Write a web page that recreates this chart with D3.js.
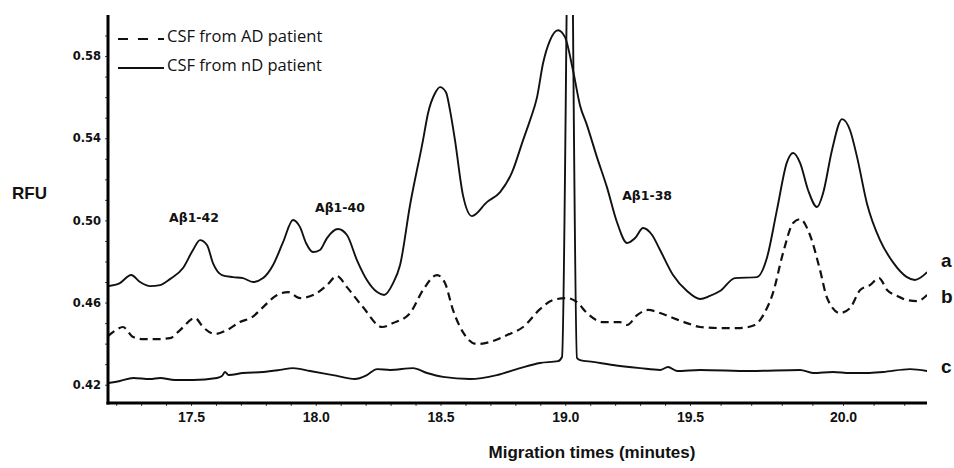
<!DOCTYPE html>
<html>
<head>
<meta charset="utf-8">
<script src="https://cdn.jsdelivr.net/npm/d3@7"></script>
<style>
  html, body { margin: 0; padding: 0; background: #fff; }
  svg { display: block; }
</style>
</head>
<body>
<svg id="chart" width="954" height="468"></svg>
<script>
// ---------- data (migration time in minutes, RFU) ----------
const timesA = [17.167,17.215,17.260,17.296,17.336,17.376,17.416,17.468,17.508,17.536,17.564,17.588,17.624,17.668,17.708,17.749,17.789,17.829,17.869,17.909,17.937,17.961,17.989,18.017,18.045,18.089,18.125,18.165,18.205,18.246,18.274,18.310,18.338,18.378,18.430,18.450,18.478,18.498,18.522,18.538,18.558,18.590,18.626,18.686,18.739,18.787,18.831,18.859,18.887,18.911,18.939,18.971,18.999,19.031,19.059,19.087,19.127,19.167,19.207,19.248,19.280,19.312,19.348,19.380,19.432,19.488,19.533,19.565,19.598,19.647,19.719,19.752,19.784,19.817,19.837,19.860,19.886,19.915,19.935,19.964,19.997,20.023,20.046,20.078,20.121,20.163,20.209,20.235,20.275];
const rfuA = [0.4680,0.4695,0.4734,0.4700,0.4680,0.4685,0.4714,0.4768,0.4856,0.4904,0.4880,0.4792,0.4734,0.4724,0.4719,0.4700,0.4719,0.4783,0.4894,0.5002,0.4967,0.4890,0.4846,0.4856,0.4914,0.4958,0.4929,0.4807,0.4710,0.4651,0.4637,0.4695,0.4783,0.5075,0.5391,0.5522,0.5619,0.5649,0.5624,0.5537,0.5391,0.5123,0.5021,0.5089,0.5138,0.5235,0.5391,0.5488,0.5600,0.5765,0.5877,0.5926,0.5892,0.5731,0.5561,0.5464,0.5308,0.5162,0.4992,0.4890,0.4914,0.4963,0.4929,0.4856,0.4734,0.4656,0.4617,0.4632,0.4656,0.4719,0.4724,0.4821,0.5050,0.5284,0.5328,0.5279,0.5147,0.5065,0.5133,0.5342,0.5493,0.5439,0.5308,0.5084,0.4904,0.4797,0.4724,0.4710,0.4748];

const timesB = [17.167,17.199,17.227,17.268,17.308,17.364,17.416,17.456,17.516,17.548,17.596,17.644,17.696,17.745,17.789,17.845,17.889,17.937,17.997,18.045,18.085,18.125,18.189,18.266,18.310,18.378,18.430,18.486,18.518,18.550,18.590,18.646,18.698,18.767,18.831,18.899,18.951,19.007,19.047,19.087,19.151,19.219,19.248,19.288,19.332,19.380,19.432,19.488,19.533,19.598,19.663,19.712,19.745,19.771,19.804,19.837,19.860,19.892,19.925,19.948,19.990,20.023,20.056,20.088,20.118,20.144,20.177,20.209,20.242,20.275];
const rfuB = [0.4437,0.4466,0.4481,0.4432,0.4422,0.4422,0.4427,0.4466,0.4525,0.4481,0.4447,0.4466,0.4505,0.4529,0.4578,0.4637,0.4651,0.4622,0.4641,0.4685,0.4729,0.4675,0.4578,0.4481,0.4500,0.4549,0.4661,0.4734,0.4695,0.4564,0.4456,0.4398,0.4408,0.4442,0.4481,0.4568,0.4612,0.4622,0.4602,0.4549,0.4505,0.4505,0.4491,0.4539,0.4564,0.4549,0.4525,0.4500,0.4481,0.4476,0.4476,0.4491,0.4554,0.4646,0.4841,0.4987,0.5006,0.4929,0.4758,0.4622,0.4549,0.4573,0.4661,0.4685,0.4719,0.4661,0.4632,0.4612,0.4607,0.4637];

const timesC = [17.167,17.215,17.268,17.336,17.376,17.436,17.508,17.604,17.624,17.636,17.652,17.708,17.789,17.857,17.909,17.977,18.069,18.157,18.205,18.246,18.298,18.390,18.446,18.510,18.618,18.726,18.819,18.899,18.971,18.987,19.019,19.047,19.059,19.111,19.191,19.300,19.380,19.412,19.448,19.533,19.696,19.860,19.902,19.967,20.023,20.078,20.131,20.219,20.275];
const rfuC = [0.4208,0.4218,0.4233,0.4228,0.4233,0.4223,0.4223,0.4233,0.4242,0.4262,0.4247,0.4257,0.4262,0.4272,0.4281,0.4267,0.4247,0.4228,0.4247,0.4276,0.4272,0.4281,0.4257,0.4238,0.4228,0.4247,0.4281,0.4306,0.4315,0.4335,0.7045,0.4330,0.4320,0.4311,0.4296,0.4281,0.4272,0.4286,0.4267,0.4272,0.4267,0.4272,0.4257,0.4262,0.4257,0.4257,0.4262,0.4276,0.4267];

const xTickLabels = [17.5, 18.0, 18.5, 19.0, 19.5, 20.0];
const yTickLabels = [0.42, 0.46, 0.50, 0.54, 0.58];
const legendLabels = ["CSF from AD patient", "CSF from nD patient"];
const peakLabels = [ {text: "A\u03b21-42", t: 17.512, v: 0.4992},
                     {text: "A\u03b21-40", t: 18.097, v: 0.5042},
                     {text: "A\u03b21-38", t: 19.328, v: 0.5100} ];
const traceLabels = ["a", "b", "c"];

// ---------- layout ----------
const svg = d3.select("#chart");
const pLeft = 108, pRight = 927, pTop = 15, pBottom = 403;

const x = d3.scaleLinear().domain([17.5, 19.5, 20.0]).range([191, 690, 843]);
const y = d3.scaleLinear().domain([0.4111, 0.600]).range([pBottom, pTop]);

svg.append("defs").append("clipPath").attr("id", "plotclip")
  .append("rect").attr("x", pLeft).attr("y", pTop)
  .attr("width", pRight - pLeft).attr("height", pBottom - pTop);

const line = d3.line().x(d => x(d[0])).y(d => y(d[1])).curve(d3.curveMonotoneX);
const zip = (a, b) => a.map((t, i) => [t, b[i]]);

const plot = svg.append("g").attr("clip-path", "url(#plotclip)");
plot.append("path").datum(zip(timesC, rfuC)).attr("d", line)
  .attr("fill", "none").attr("stroke", "#111").attr("stroke-width", 1.9);
plot.append("path").datum(zip(timesB, rfuB)).attr("d", line)
  .attr("fill", "none").attr("stroke", "#111").attr("stroke-width", 2.2)
  .attr("stroke-dasharray", "8,5");
plot.append("path").datum(zip(timesA, rfuA)).attr("d", line)
  .attr("fill", "none").attr("stroke", "#111").attr("stroke-width", 1.9);

// ---------- axes ----------
const minorX = d3.range(17.2, 20.25, 0.1).map(v => +v.toFixed(1));
const xAxisMinor = d3.axisBottom(x).tickValues(minorX).tickSize(3).tickFormat("");
const gx = svg.append("g").attr("transform", `translate(0,${pBottom})`).call(xAxisMinor);
gx.select(".domain").remove();
gx.selectAll(".tick line").attr("stroke", "#444").attr("stroke-width", 1);

const xAxisLab = d3.axisBottom(x).tickValues(xTickLabels).tickSize(0).tickPadding(9)
  .tickFormat(d3.format(".1f"));
const gxl = svg.append("g").attr("transform", `translate(0,${pBottom})`).call(xAxisLab);
gxl.select(".domain").remove();
gxl.selectAll("text").attr("font-family", "Liberation Sans, Arial, sans-serif")
  .attr("font-weight", "bold").attr("font-size", 14).attr("fill", "#111");

const minorY = d3.range(0.42, 0.5951, 0.01).map(v => +v.toFixed(2));
const yAxisMinor = d3.axisLeft(y).tickValues(minorY).tickSize(3).tickFormat("");
const gy = svg.append("g").attr("transform", `translate(${pLeft},0)`).call(yAxisMinor);
gy.select(".domain").remove();
gy.selectAll(".tick line").attr("stroke", "#444").attr("stroke-width", 1);

const yAxisLab = d3.axisLeft(y).tickValues(yTickLabels).tickSize(0).tickPadding(7)
  .tickFormat(d3.format(".2f"));
const gyl = svg.append("g").attr("transform", `translate(${pLeft},0)`).call(yAxisLab);
gyl.select(".domain").remove();
gyl.selectAll("text").attr("font-family", "DejaVu Sans, sans-serif")
  .attr("font-weight", "bold").attr("font-size", 11.5).attr("fill", "#111");

// axis lines
svg.append("line").attr("x1", pLeft).attr("x2", pLeft).attr("y1", pTop).attr("y2", pBottom + 1.5)
  .attr("stroke", "#000").attr("stroke-width", 3);
svg.append("line").attr("x1", pLeft - 1.5).attr("x2", pRight).attr("y1", pBottom).attr("y2", pBottom)
  .attr("stroke", "#000").attr("stroke-width", 3);

// axis titles
svg.append("text").attr("x", 12).attr("y", 199).text("RFU")
  .attr("font-family", "Liberation Sans, Arial, sans-serif").attr("font-weight", "bold")
  .attr("font-size", 17).attr("fill", "#111");
svg.append("text").attr("x", 592).attr("y", 458).attr("text-anchor", "middle")
  .text("Migration times (minutes)")
  .attr("font-family", "Liberation Sans, Arial, sans-serif").attr("font-weight", "bold")
  .attr("font-size", 17).attr("fill", "#111");

// peak labels
svg.selectAll(".peak").data(peakLabels).join("text")
  .attr("x", d => x(d.t)).attr("y", d => y(d.v)).attr("text-anchor", "middle")
  .text(d => d.text)
  .attr("font-family", "DejaVu Sans, sans-serif").attr("font-weight", "bold")
  .attr("font-size", 12.5).attr("fill", "#111");

// trace labels a, b, c
const traceLabelY = [267, 303, 373];
svg.selectAll(".tl").data(traceLabels).join("text")
  .attr("x", 941).attr("y", (d, i) => traceLabelY[i]).text(d => d)
  .attr("font-family", "Liberation Sans, Arial, sans-serif").attr("font-weight", "bold")
  .attr("font-size", 19).attr("fill", "#111");

// legend
const lg = svg.append("g");
const legendY = [39, 68];
lg.append("line").attr("x1", 118).attr("x2", 164).attr("y1", legendY[0]).attr("y2", legendY[0])
  .attr("stroke", "#111").attr("stroke-width", 2.2).attr("stroke-dasharray", "10,10");
lg.append("line").attr("x1", 118).attr("x2", 164).attr("y1", legendY[1]).attr("y2", legendY[1])
  .attr("stroke", "#111").attr("stroke-width", 2);
lg.selectAll("text").data(legendLabels).join("text")
  .attr("x", 167).attr("y", (d, i) => legendY[i] - 1).attr("dominant-baseline", "middle")
  .text(d => d)
  .attr("font-family", "Open Sans, sans-serif").attr("font-size", 16.5).attr("fill", "#111");
</script>
</body>
</html>
